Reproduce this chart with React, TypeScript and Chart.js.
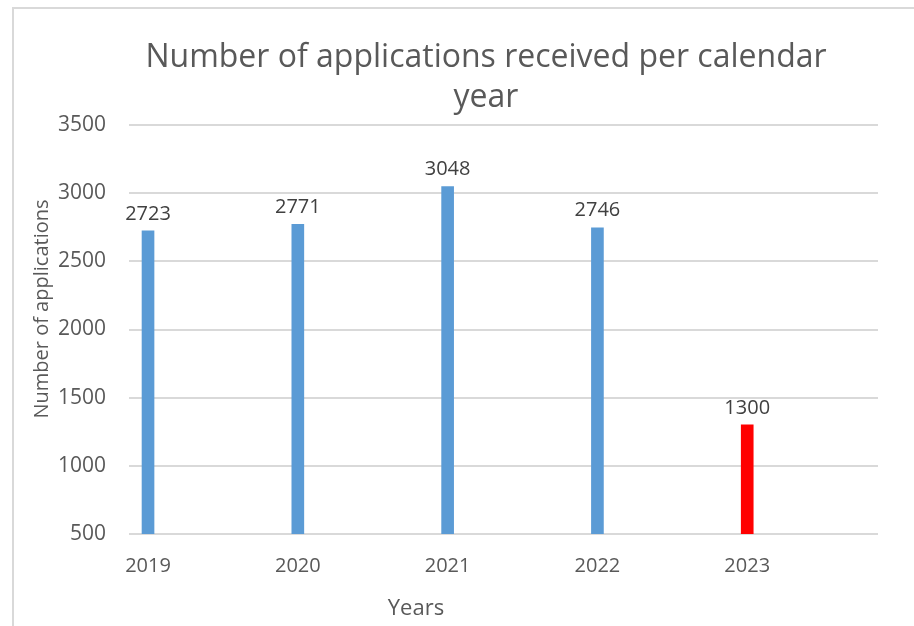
import React, { useEffect, useRef } from "react";
import { Chart, registerables } from "chart.js";

Chart.register(...registerables);

const years = [2019, 2020, 2021, 2022, 2023];
const applications = [2723, 2771, 3048, 2746, 1300];
const highlightYear = 2023;
const titleLines = ["Number of applications received per calendar", "year"];
const yTitle = "Number of applications";
const xTitle = "Years";

const FONT = "'Open Sans', 'DejaVu Sans', sans-serif";

export default function App() {
  const ref = useRef<HTMLCanvasElement>(null);
  useEffect(() => {
    document.body.style.margin = "0";
    const canvas = ref.current!;
    const borderPlugin = {
      id: "frame",
      beforeDraw(chart: any) {
        const ctx = chart.ctx;
        ctx.save();
        ctx.fillStyle = "#ffffff";
        ctx.fillRect(0, 0, chart.width, chart.height);
        ctx.strokeStyle = "#D9D9D9";
        ctx.lineWidth = 2;
        ctx.beginPath();
        ctx.moveTo(chart.width, 8);
        ctx.lineTo(13, 8);
        ctx.lineTo(13, chart.height);
        ctx.stroke();
        ctx.restore();
      },
    };
    const textPlugin = {
      id: "texts",
      afterDraw(chart: any) {
        const ctx = chart.ctx;
        ctx.save();
        ctx.fillStyle = "#595959";
        ctx.textAlign = "center";
        ctx.textBaseline = "middle";
        ctx.font = `32px ${FONT}`;
        titleLines.forEach((line, i) => ctx.fillText(line, 486, 58 + i * 40));
        ctx.font = `22px ${FONT}`;
        ctx.fillText(xTitle, 416, 609);
        ctx.translate(42, 309);
        ctx.rotate(-Math.PI / 2);
        ctx.font = `20px ${FONT}`;
        ctx.fillText(yTitle, 0, 0);
        ctx.restore();
      },
    };
    const labelPlugin = {
      id: "valueLabels",
      afterDatasetsDraw(chart: any) {
        const ctx = chart.ctx;
        const meta = chart.getDatasetMeta(0);
        ctx.save();
        ctx.font = `20px ${FONT}`;
        ctx.fillStyle = "#404040";
        ctx.textAlign = "center";
        ctx.textBaseline = "middle";
        meta.data.forEach((el: any, i: number) => {
          ctx.fillText(String(applications[i]), el.x, el.y - 17);
        });
        ctx.restore();
      },
    };
    const chart = new Chart(canvas, {
      type: "bar",
      data: {
        datasets: [
          {
            data: years.map((y, i) => ({ x: y, y: applications[i] })),
            backgroundColor: years.map((y) => (y === highlightYear ? "#FF0000" : "#5B9BD5")),
            barThickness: 12,
          },
        ],
      },
      options: {
        responsive: false,
        animation: false,
        layout: { padding: { left: 0, right: 36, top: 125, bottom: 0 } },
        plugins: {
          legend: { display: false },
          tooltip: { enabled: false },
          title: { display: false },
        },
        scales: {
          x: {
            type: "linear",
            min: 2018.873,
            max: 2023.873,
            offset: false,
            grid: { display: false, drawTicks: false },
            border: { display: false },
            afterBuildTicks: (s: any) => {
              s.ticks = years.map((v) => ({ value: v }));
            },
            ticks: {
              color: "#595959",
              font: { family: FONT, size: 20 },
              padding: 20,
              callback: (v: any) => String(v),
            },
            afterFit: (s: any) => {
              s.height = 92;
            },
          },
          y: {
            min: 500,
            max: 3500,
            grid: { color: "#D9D9D9", lineWidth: 2, drawTicks: false },
            border: { display: false },
            ticks: {
              stepSize: 500,
              color: "#595959",
              font: { family: FONT, size: 21 },
              padding: 23,
              callback: (v: any) => String(v),
            },
            afterFit: (s: any) => {
              s.width = 129;
            },
          },
        },
      },
      plugins: [borderPlugin, labelPlugin, textPlugin],
    });
    return () => chart.destroy();
  }, []);
  return (
    <div style={{ width: 914, height: 626 }}>
      <canvas ref={ref} width={914} height={626} />
    </div>
  );
}
